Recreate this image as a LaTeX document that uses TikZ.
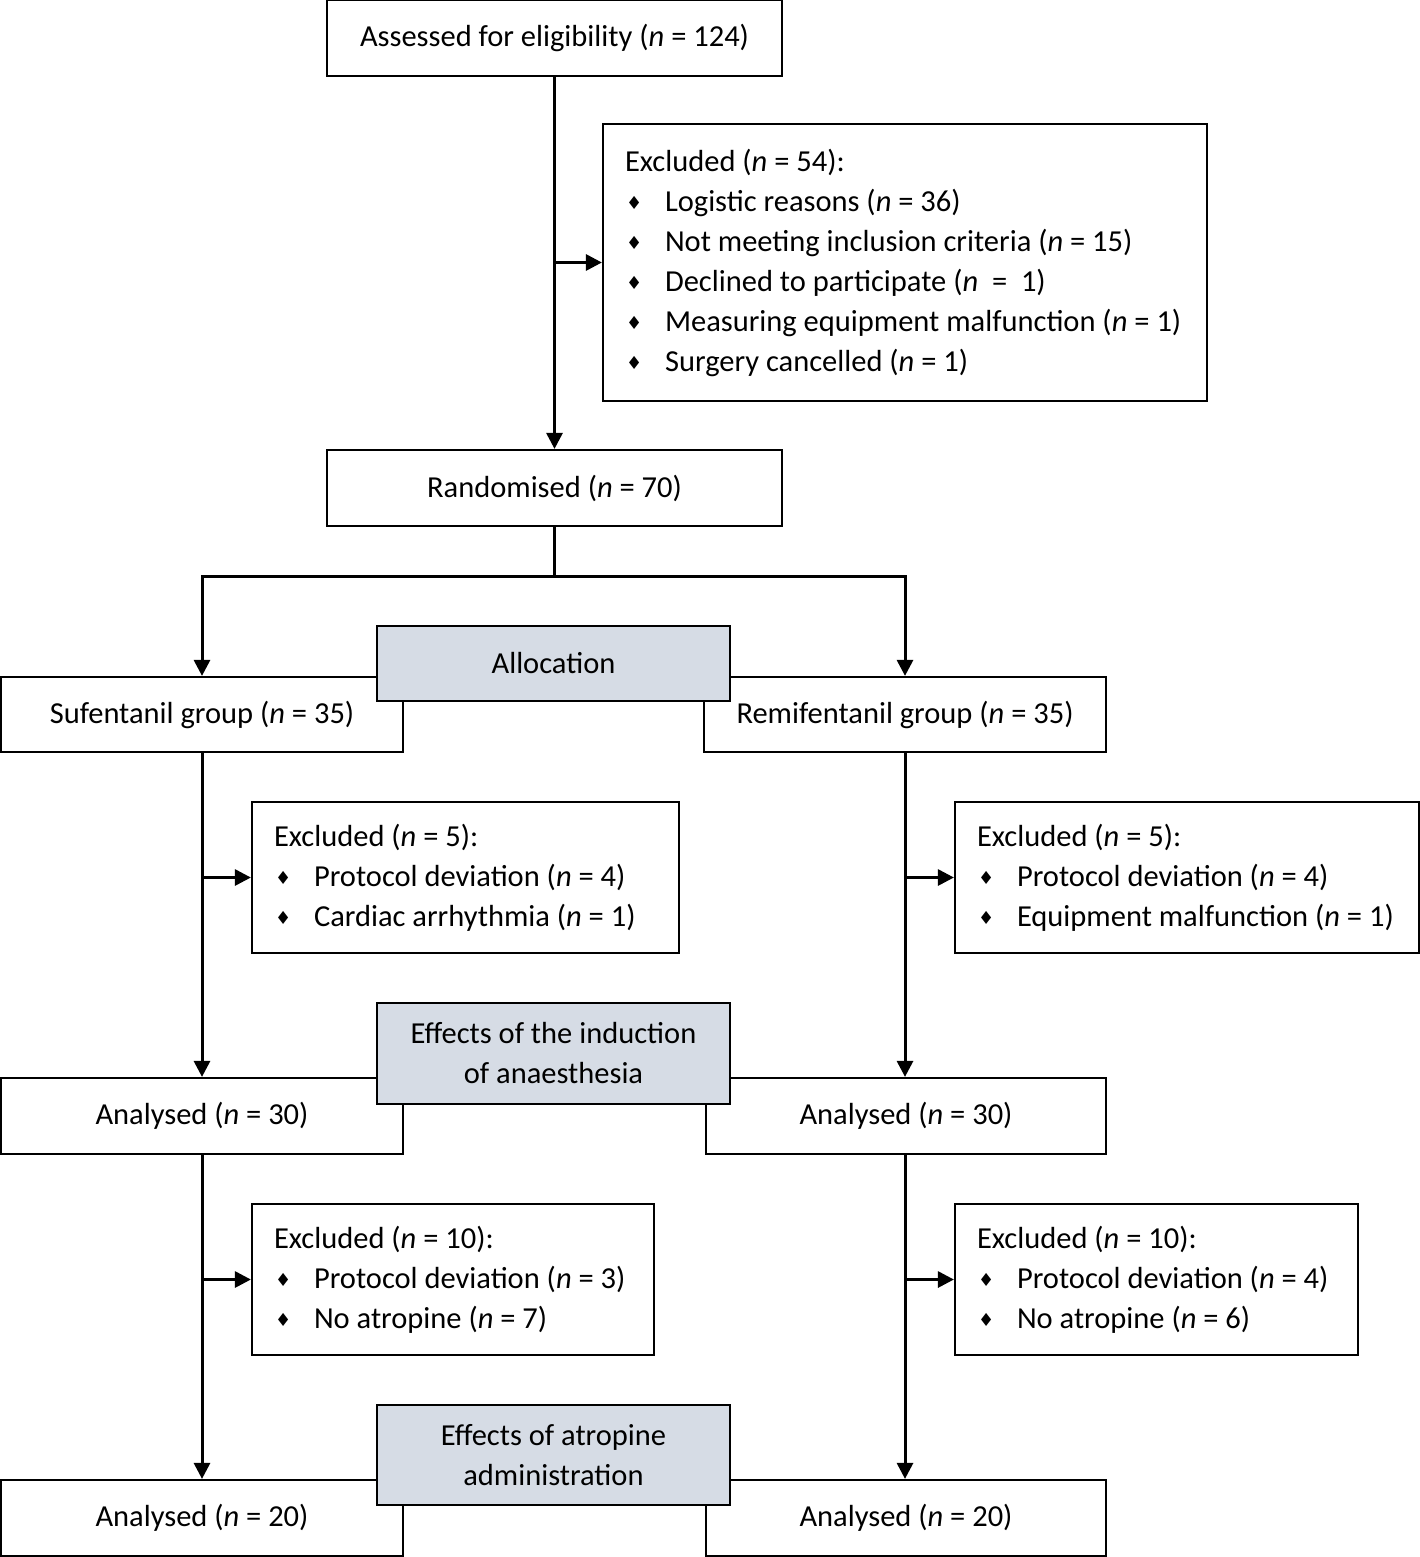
\documentclass[tikz,border=0pt]{standalone}
\usepackage{fontspec}
\setmainfont{Carlito}
\newfontfamily\dejavu{DejaVu Sans}
\usetikzlibrary{arrows.meta,calc}
\definecolor{grayblue}{HTML}{D6DCE5}
\newcommand{\nn}{\textit{n}}
\newcommand{\bul}{\makebox[40pt][l]{\hspace{1pt}\raisebox{2pt}{\dejavu\fontsize{18}{18}\selectfont ♦}}}
\begin{document}
\begin{tikzpicture}[x=1pt,y=-1pt,
  every node/.style={font=\fontsize{30.5}{40}\selectfont},
  box/.style={draw,line width=2.2pt,inner sep=0pt,align=center},
  lbox/.style={draw,line width=2.2pt,inner xsep=22pt,inner ysep=0pt,align=flush left},
  gbox/.style={box,fill=grayblue},
  arr/.style={line width=3pt,-{Triangle[length=16pt,width=16pt]}},
  ln/.style={line width=3pt}]
\useasboundingbox (0,0) rectangle (1420,1557);
% top
\node[box,minimum width=455pt,minimum height=76pt] (assess) at (554.5,38) {Assessed for eligibility (\nn{} = 124)};
\node[lbox,text width=560pt,minimum height=277pt] (ex54) at (905,262.5) {Excluded (\nn{} = 54):\\
\bul Logistic reasons (\nn{} = 36)\\
\bul Not meeting inclusion criteria (\nn{} = 15)\\
\bul Declined to participate (\nn{}\ \ =\ \ 1)\\
\bul Measuring equipment malfunction (\nn{} = 1)\\
\bul Surgery cancelled (\nn{} = 1)};
\node[box,minimum width=455pt,minimum height=76pt] (rand) at (554.5,488) {Randomised (\nn{} = 70)};
% groups
\node[box,minimum width=402pt,minimum height=75pt] (suf) at (202,714.5) {Sufentanil group (\nn{} = 35)};
\node[box,minimum width=402pt,minimum height=75pt] (remi) at (905,714.5) {Remifentanil group (\nn{} = 35)};
\node[lbox,text width=383pt,minimum height=151pt] (ex5l) at (465.5,877.5) {Excluded (\nn{} = 5):\\
\bul Protocol deviation (\nn{} = 4)\\
\bul Cardiac arrhythmia (\nn{} = 1)};
\node[lbox,text width=420pt,minimum height=151pt] (ex5r) at (1187,877.5) {Excluded (\nn{} = 5):\\
\bul Protocol deviation (\nn{} = 4)\\
\bul Equipment malfunction (\nn{} = 1)};
\node[box,minimum width=402pt,minimum height=76pt] (an30l) at (202,1116) {Analysed (\nn{} = 30)};
\node[box,minimum width=400pt,minimum height=76pt] (an30r) at (906,1116) {Analysed (\nn{} = 30)};
\node[lbox,text width=358pt,minimum height=151pt] (ex10l) at (453,1279.5) {Excluded (\nn{} = 10):\\
\bul Protocol deviation (\nn{} = 3)\\
\bul No atropine (\nn{} = 7)};
\node[lbox,text width=359pt,minimum height=151pt] (ex10r) at (1156.5,1279.5) {Excluded (\nn{} = 10):\\
\bul Protocol deviation (\nn{} = 4)\\
\bul No atropine (\nn{} = 6)};
\node[box,minimum width=402pt,minimum height=76pt] (an20l) at (202,1518) {Analysed (\nn{} = 20)};
\node[box,minimum width=400pt,minimum height=76pt] (an20r) at (906,1518) {Analysed (\nn{} = 20)};
% gray labels
\node[gbox,minimum width=353pt,minimum height=75pt] (alloc) at (553.5,663.5) {Allocation};
\node[gbox,minimum width=353pt,minimum height=101pt] (eff1) at (553.5,1053.5) {Effects of the induction\\of anaesthesia};
\node[gbox,minimum width=353pt,minimum height=100pt] (eff2) at (553.5,1455) {Effects of atropine\\administration};
% connectors
\draw[arr] (assess.south) -- (rand.north);
\draw[arr] (assess.south |- ex54.west) -- (ex54.west);
\coordinate (split) at (554.5,576);
\draw[ln] (rand.south) -- (split);
\draw[arr] (split) -| (suf.north);
\draw[arr] (split) -| (remi.north);
\draw[arr] (suf.south) -- (suf.south |- an30l.north);
\draw[arr] (remi.south) -- (remi.south |- an30r.north);
\draw[arr] (suf.south |- ex5l.west) -- (ex5l.west);
\draw[arr] (remi.south |- ex5r.west) -- (ex5r.west);
\draw[arr] (an30l.south) -- (an30l.south |- an20l.north);
\draw[arr] (remi.south |- an30r.south) -- (remi.south |- an20r.north);
\draw[arr] (an30l.south |- ex10l.west) -- (ex10l.west);
\draw[arr] (remi.south |- ex10r.west) -- (ex10r.west);
\end{tikzpicture}
\end{document}
